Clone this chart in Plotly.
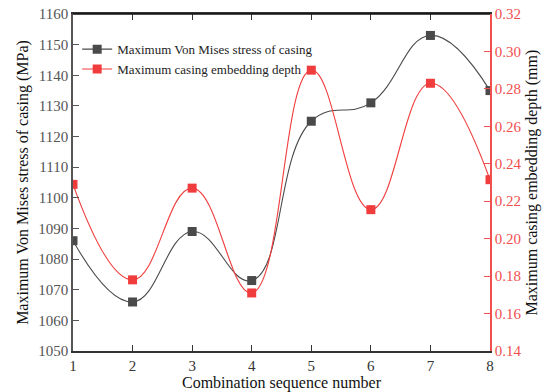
import plotly.graph_objects as go

combo = [1, 2, 3, 4, 5, 6, 7, 8]
stress = [1086, 1066, 1089, 1073, 1125, 1131, 1153, 1135]
depth = [0.229, 0.178, 0.227, 0.171, 0.290, 0.2155, 0.283, 0.2315]

gray = "#4a4a4a"
red = "#f03c3c"
font_family = "Liberation Serif"

fig = go.Figure()
fig.add_trace(go.Scatter(
    x=combo, y=stress, name="Maximum Von Mises stress of casing",
    mode="lines+markers", line=dict(color=gray, width=1.1, shape="spline", smoothing=1.25),
    marker=dict(symbol="square", size=9, color=gray), yaxis="y"))
fig.add_trace(go.Scatter(
    x=combo, y=depth, name="Maximum casing embedding depth",
    mode="lines+markers", line=dict(color=red, width=1.1, shape="spline", smoothing=1.25),
    marker=dict(symbol="square", size=9, color=red), yaxis="y2"))

fig.update_layout(
    width=542, height=392,
    margin=dict(l=73, r=52, t=14, b=41, autoexpand=False),
    paper_bgcolor="white", plot_bgcolor="white",
    font=dict(family=font_family, size=14, color="#222"),
    showlegend=True,
    legend=dict(x=0.01, y=0.94, xanchor="left", yanchor="top", bgcolor="rgba(0,0,0,0)",
                font=dict(family=font_family, size=13, color="#222"), tracegroupgap=0,
                itemwidth=30),
    xaxis=dict(range=[1, 8], tickvals=combo, ticks="inside", ticklen=6, tickcolor="#333",
               showline=True, linecolor="#333", linewidth=1.5, mirror="ticks",
               showgrid=False, zeroline=False, automargin=False,
               tickfont=dict(size=15, color="#333"),
               title=dict(text="Combination sequence number", font=dict(size=16, color="#111"),
                          standoff=2)),
    yaxis=dict(range=[1050, 1160], dtick=10, ticks="inside", ticklen=6, tickcolor="#555",
               showline=True, linecolor="#555", linewidth=1.5,
               showgrid=False, zeroline=False, automargin=False,
               tickfont=dict(size=15, color="#555"),
               title=dict(text="Maximum Von Mises stress of casing (MPa)",
                          font=dict(size=16, color="#111"), standoff=6)),
    yaxis2=dict(range=[0.14, 0.32], dtick=0.02, tickformat=".2f", overlaying="y", side="right",
                ticks="inside", ticklen=6, tickcolor="#f05050",
                showline=True, linecolor="#f05050", linewidth=1.5,
                showgrid=False, zeroline=False, automargin=False,
                tickfont=dict(size=15, color="#f05050")),
)

fig.add_annotation(text="Maximum casing embedding depth (mm)", xref="paper", yref="paper",
                   x=1, y=0.5, xshift=41, textangle=-90, showarrow=False,
                   xanchor="center", yanchor="middle",
                   font=dict(family=font_family, size=16, color="#111"))

# top border line
fig.add_shape(type="line", xref="paper", yref="paper", x0=0, x1=1, y0=1, y1=1,
              line=dict(color="#111", width=1.5))

fig.write_html("out.html")
